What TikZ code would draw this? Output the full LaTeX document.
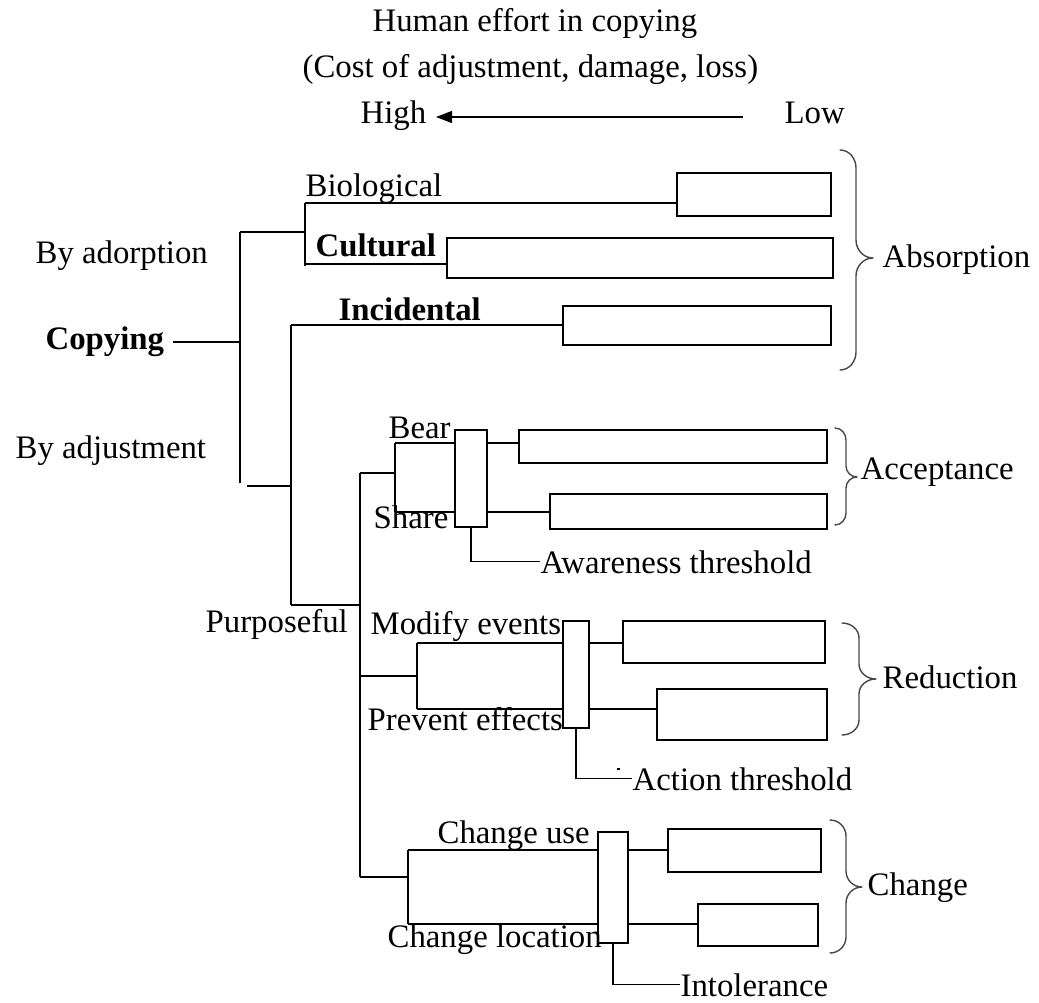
\documentclass[tikz,border=0pt]{standalone}
\usepackage{fontspec}
\setmainfont{Liberation Serif}
\usetikzlibrary{arrows.meta}

\begin{document}
\begin{tikzpicture}[x=1pt,y=-1pt, line width=1.3pt,
  lbl/.style={anchor=base west, inner sep=0pt, font=\fontsize{32.8}{38}\selectfont},
  blbl/.style={anchor=base west, inner sep=0pt, font=\fontsize{32.8}{38}\selectfont\bfseries},
  box/.style={draw, rectangle, inner sep=0pt},
  curly/.style={draw=black!72, line width=1.4pt, line cap=round, line join=round},
  pointer/.style={-{Triangle[length=16pt,width=12pt]}}
]
\useasboundingbox (0,0) rectangle (1039,1003);

% ---- heading and effort scale ----
\node[lbl] (head1) at (372,32) {Human effort in copying};
\node[lbl] (head2) at (302,78) {(Cost of adjustment, damage, loss)};
\node[lbl] (high) at (360,124) {High};
\node[lbl] (low) at (784,124) {Low};
\coordinate (scaleR) at (743,117);
\coordinate (scaleL) at (436,117);
\draw[pointer] (scaleR) -- (scaleL);

% ---- left labels ----
\node[blbl] (cop) at (45,349) {Copying};
\node[lbl] (adorp) at (35,264) {By adorption};
\node[lbl] (adjust) at (15,458) {By adjustment};

% ---- outcome boxes ----
\node[box, minimum width=154pt, minimum height=43pt] (bio) at (754,194.5) {};
\node[box, minimum width=386pt, minimum height=40pt] (cult) at (640,258) {};
\node[box, minimum width=268pt, minimum height=39pt] (inc) at (697,325.5) {};
\node[box, minimum width=308pt, minimum height=33pt] (acc1) at (673,446.5) {};
\node[box, minimum width=277pt, minimum height=35pt] (acc2) at (688.5,511.5) {};
\node[box, minimum width=202pt, minimum height=42pt] (red1) at (724,642) {};
\node[box, minimum width=170pt, minimum height=51pt] (red2) at (742,714.5) {};
\node[box, minimum width=153pt, minimum height=43pt] (chg1) at (744.5,850.5) {};
\node[box, minimum width=120pt, minimum height=42pt] (chg2) at (758,925) {};

% ---- threshold bars ----
\node[box, minimum width=32pt, minimum height=97pt] (awr) at (471,478.5) {};
\node[box, minimum width=26pt, minimum height=107pt] (act) at (576,674.5) {};
\node[box, minimum width=30pt, minimum height=111pt] (intol) at (613,887.5) {};

% ---- branch labels ----
\node[lbl] (biot) at (305,197) {Biological};
\node[blbl] (cultt) at (315,257) {Cultural};
\node[blbl] (inct) at (338,320) {Incidental};
\node[lbl] (purp) at (205,632) {Purposeful};
\node[lbl] (bear) at (388,438) {Bear};
\node[lbl] (share) at (373,528) {Share};
\node[lbl] (awt) at (540,573) {Awareness threshold};
\node[lbl] (modt) at (370,634) {Modify events};
\node[lbl] (prevt) at (367,730) {Prevent effects};
\node[lbl] (att) at (632,790) {Action threshold};
\node[lbl] (cuse) at (437,843) {Change use};
\node[lbl] (cloc) at (387,947) {Change location};
\node[lbl] (itx) at (680,996) {Intolerance};

% ---- main trunk ----
\coordinate (c0) at (173,342);
\coordinate (t1) at (240,342);
\coordinate (tTop) at (240,232);
\coordinate (tBot) at (240,483);
\draw (c0) -- (t1);
\draw (tTop) -- (tBot);

% adoption branch
\coordinate (aJ) at (305,232);
\coordinate (aT) at (305,203);
\coordinate (aB) at (305,266);
\coordinate (aC) at (305,264);
\draw (tTop) -- (aJ);
\draw (aT) -- (aB);
\draw (aT) -- (aT -| bio.west);
\draw (aC) -- (aC -| cult.west);

% adjustment branch
\coordinate (dL) at (247,486);
\coordinate (dJ) at (291,486);
\coordinate (iT) at (291,325);
\coordinate (pJ) at (291,605);
\draw (dL) -- (dJ);
\draw (iT) -- (pJ);
\draw (iT) -- (iT -| inc.west);
\coordinate (sT) at (360,473);
\coordinate (pR) at (360,605);
\coordinate (sB) at (360,877);
\draw (pJ) -- (pR);
\draw (sT) -- (sB);

% acceptance
\coordinate (q1) at (395,473);
\coordinate (q1T) at (395,443);
\coordinate (q1B) at (395,512);
\draw (sT) -- (q1);
\draw (q1T) -- (q1B);
\draw (q1T) -- (q1T -| awr.west);
\draw (q1B) -- (q1B -| awr.west);
\draw (awr.east |- q1T) -- (q1T -| acc1.west);
\draw (awr.east |- q1B) -- (q1B -| acc2.west);
\draw (awr.south) |- (awt.west);

% reduction
\coordinate (rJ) at (360,676);
\coordinate (r0) at (417,676);
\coordinate (r0T) at (417,643);
\coordinate (r0B) at (417,709);
\draw (rJ) -- (r0);
\draw (r0T) -- (r0B);
\draw (r0T) -- (r0T -| act.west);
\draw (r0B) -- (r0B -| act.west);
\draw (act.east |- r0T) -- (r0T -| red1.west);
\draw (act.east |- r0B) -- (r0B -| red2.west);
\draw (act.south) |- (att.west);
\fill (617,768) rectangle (620,770);

% change
\coordinate (g0) at (408,877);
\coordinate (g0T) at (408,850);
\coordinate (g0B) at (408,924);
\draw (sB) -- (g0);
\draw (g0T) -- (g0B);
\draw (g0T) -- (g0T -| intol.west);
\draw (g0B) -- (g0B -| intol.west);
\draw (intol.east |- g0T) -- (g0T -| chg1.west);
\draw (intol.east |- g0B) -- (g0B -| chg2.west);
\draw (intol.south) |- (itx.west);

% ---- group braces ----
\draw[curly] (840,150) to[out=0,in=90] (856,168) -- (856,240)
  to[out=-90,in=180] (873,258) to[out=180,in=90] (856,276) -- (856,352)
  to[out=-90,in=0] (840,370);
\node[lbl] (absorb) at (882,267) {Absorption};

\draw[curly] (835,428) to[out=0,in=90] (846,440) -- (846,466)
  to[out=-90,in=180] (857,477) to[out=180,in=90] (846,488) -- (846,513)
  to[out=-90,in=0] (835,525);
\node[lbl] (accept) at (860,479) {Acceptance};

\draw[curly] (842,623) to[out=0,in=90] (859,638) -- (859,664)
  to[out=-90,in=180] (876,679) to[out=180,in=90] (859,694) -- (859,720)
  to[out=-90,in=0] (842,735);
\node[lbl] (reduce) at (882,688) {Reduction};

\draw[curly] (830,820) to[out=0,in=90] (846,836) -- (846,871)
  to[out=-90,in=180] (862,887) to[out=180,in=90] (846,903) -- (846,937)
  to[out=-90,in=0] (830,953);
\node[lbl] (changet) at (867,895) {Change};
\end{tikzpicture}
\end{document}
